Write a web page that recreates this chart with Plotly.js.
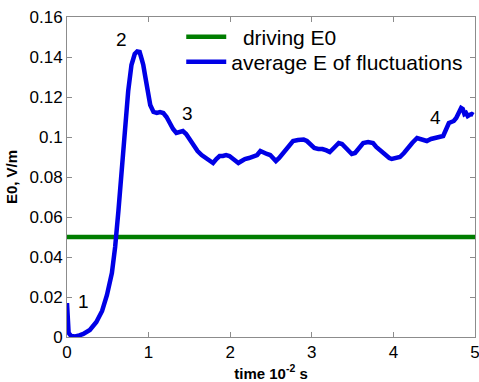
<!DOCTYPE html>
<html>
<head>
<meta charset="utf-8">
<script src="https://cdn.plot.ly/plotly-3.0.1.min.js"></script>
<style>html,body{margin:0;padding:0;background:#fff}#chart{width:479px;height:382px}</style>
</head>
<body>
<div id="chart"></div>
<script>
const timeVals = [0, 0.005, 0.02, 0.05, 0.1, 0.15, 0.2, 0.28, 0.36, 0.43, 0.49, 0.55, 0.59, 0.63, 0.67, 0.71, 0.75, 0.79, 0.83, 0.86, 0.89, 0.915, 0.935, 0.96, 0.98, 1.0, 1.02, 1.06, 1.1, 1.14, 1.18, 1.22, 1.26, 1.30, 1.34, 1.38, 1.42, 1.46, 1.5, 1.55, 1.6, 1.65, 1.71, 1.76, 1.79, 1.83, 1.87, 1.91, 1.95, 1.99, 2.03, 2.07, 2.10, 2.14, 2.18, 2.23, 2.28, 2.33, 2.37, 2.41, 2.45, 2.49, 2.53, 2.56, 2.6, 2.63, 2.67, 2.72, 2.77, 2.83, 2.9, 2.94, 2.98, 3.03, 3.08, 3.13, 3.18, 3.22, 3.27, 3.33, 3.37, 3.41, 3.45, 3.49, 3.53, 3.58, 3.63, 3.69, 3.75, 3.79, 3.83, 3.87, 3.91, 3.95, 3.98, 4.03, 4.08, 4.13, 4.18, 4.23, 4.29, 4.35, 4.41, 4.46, 4.51, 4.56, 4.61, 4.64, 4.68, 4.71, 4.74, 4.77, 4.8, 4.83, 4.85, 4.87, 4.89, 4.91, 4.93, 4.96, 4.98];
const avgE = [0.017, 0.008, 0.002, 0.0005, 0.0003, 0.0008, 0.0015, 0.0035, 0.0075, 0.013, 0.021, 0.032, 0.045, 0.063, 0.083, 0.104, 0.123, 0.136, 0.1415, 0.1428, 0.1425, 0.139, 0.136, 0.130, 0.126, 0.121, 0.116, 0.1125, 0.112, 0.1125, 0.112, 0.110, 0.1065, 0.104, 0.102, 0.1025, 0.103, 0.1015, 0.099, 0.096, 0.093, 0.091, 0.089, 0.0875, 0.087, 0.089, 0.0905, 0.0905, 0.091, 0.0905, 0.089, 0.088, 0.087, 0.088, 0.089, 0.0895, 0.0905, 0.091, 0.093, 0.092, 0.0915, 0.091, 0.089, 0.088, 0.0895, 0.091, 0.0925, 0.095, 0.098, 0.0985, 0.0987, 0.098, 0.0965, 0.0945, 0.094, 0.094, 0.0933, 0.0925, 0.0945, 0.097, 0.0965, 0.095, 0.093, 0.0915, 0.092, 0.0945, 0.097, 0.0975, 0.097, 0.095, 0.0935, 0.092, 0.091, 0.0895, 0.089, 0.0895, 0.090, 0.092, 0.095, 0.097, 0.0995, 0.099, 0.098, 0.099, 0.0997, 0.100, 0.1005, 0.103, 0.107, 0.1075, 0.108, 0.1095, 0.112, 0.1145, 0.114, 0.1115, 0.112, 0.1105, 0.111, 0.1115, 0.111];
const drivingX = [0, 5];
const drivingE0 = [0.05, 0.05];
const seriesNames = ["\u00a0\u00a0driving E0", "average E of fluctuations"];
const xTickVals = [0, 1, 2, 3, 4, 5];
const xTickText = ["0", "1", "2", "3", "4", "5"];
const yTickVals = [0, 0.02, 0.04, 0.06, 0.08, 0.1, 0.12, 0.14, 0.16];
const yTickText = ["0", "0.02", "0.04", "0.06", "0.08", "0.1", "0.12", "0.14", "0.16"];
const labelText = ["1", "2", "3", "4"];
const labelX = [0.2, 0.67, 1.48, 4.51];
const labelY = [0.018, 0.149, 0.112, 0.110];

const FONT = "Liberation Sans, Arial, sans-serif";
const data = [
  {x: drivingX, y: drivingE0, type: "scatter", mode: "lines", name: seriesNames[0], legend: "legend",
   line: {color: "rgb(0,125,0)", width: 4.5}},
  {x: timeVals, y: avgE, type: "scatter", mode: "lines", name: seriesNames[1], legend: "legend2",
   line: {color: "rgb(0,0,230)", width: 4.5}}
];
const axisCommon = {
  showgrid: false, zeroline: false, showline: true, linecolor: "#8c8c8c", linewidth: 1,
  mirror: "ticks", ticks: "inside", ticklen: 5, tickcolor: "#8c8c8c",
  tickfont: {family: FONT, size: 17, color: "#000"}
};
const legendCommon = {xanchor: "left", yanchor: "middle", bgcolor: "rgba(0,0,0,0)",
  borderwidth: 0, font: {family: FONT, size: 21, color: "#000"}, itemwidth: 40};
const layout = {
  width: 479, height: 382,
  margin: {l: 67, r: 4, t: 17, b: 45},
  paper_bgcolor: "#fff", plot_bgcolor: "#fff",
  font: {family: FONT, color: "#000"},
  xaxis: Object.assign({}, axisCommon, {
    range: [0, 5], tickvals: xTickVals, ticktext: xTickText, ticklabeloverflow: "allow",
    title: {text: "<b>time 10<sup>-2</sup> s</b>", font: {family: FONT, size: 15}, standoff: 1}
  }),
  yaxis: Object.assign({}, axisCommon, {
    range: [0, 0.16], tickvals: yTickVals, ticktext: yTickText,
    title: {text: "<b>E0, V/m</b>", font: {family: FONT, size: 15}, standoff: 8}
  }),
  showlegend: true,
  legend: Object.assign({}, legendCommon, {x: 0.28, y: 0.9375}),
  legend2: Object.assign({}, legendCommon, {x: 0.28, y: 0.859}),
  annotations: labelText.map((t, i) => ({x: labelX[i], y: labelY[i], xref: "x", yref: "y",
    text: t, showarrow: false, font: {family: FONT, size: 19, color: "#000"}}))
};
Plotly.newPlot("chart", data, layout, {displayModeBar: false, staticPlot: true});
</script>
</body>
</html>
